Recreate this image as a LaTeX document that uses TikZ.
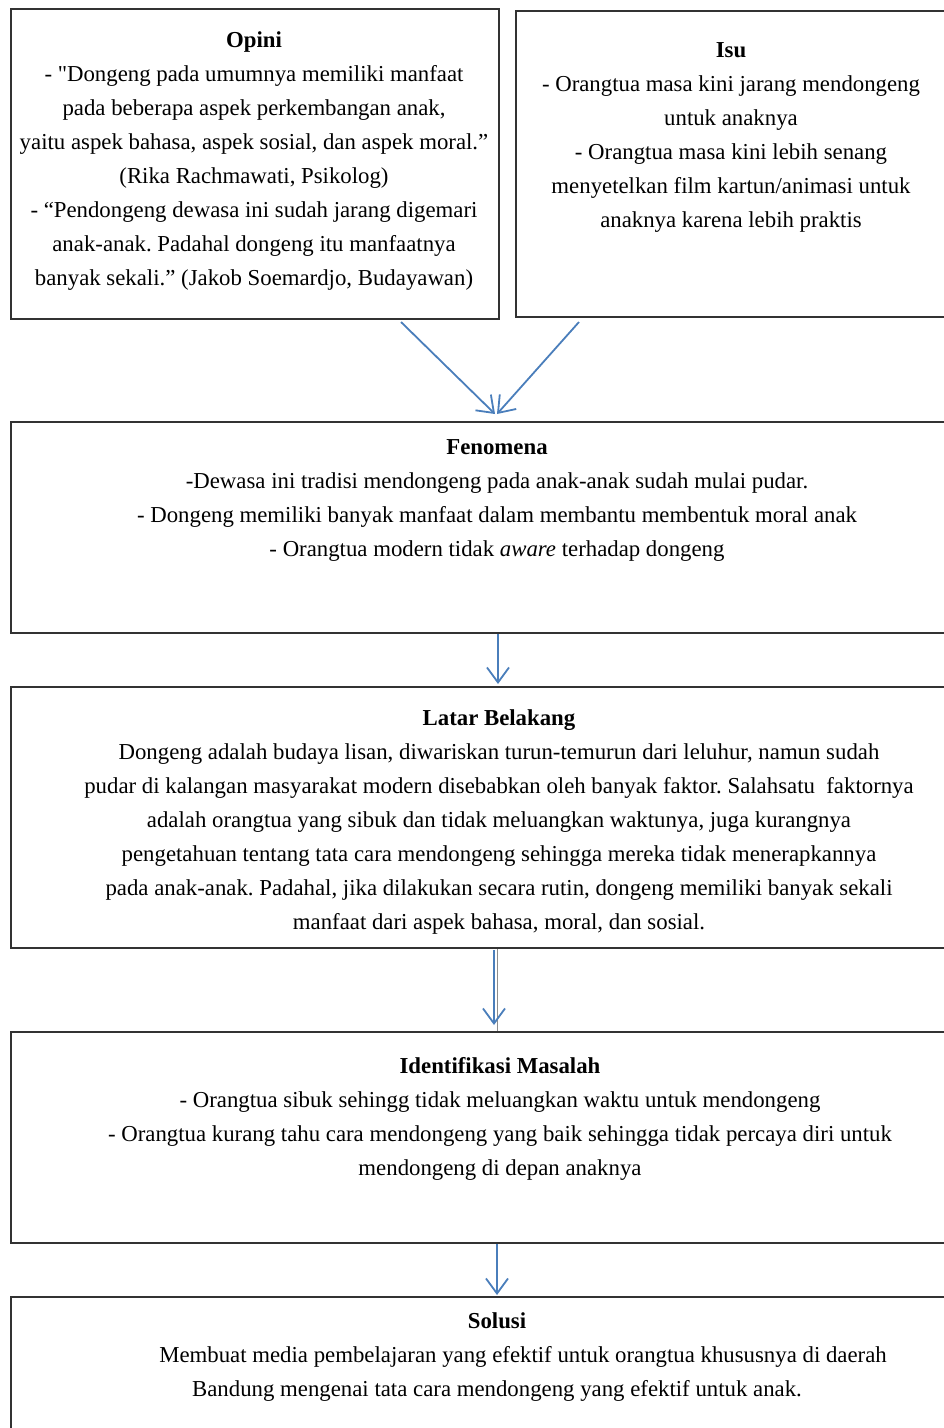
\documentclass[tikz,border=0pt]{standalone}
\usepackage{fontspec}
\setmainfont{Liberation Serif}
\newfontfamily\plainfont{Liberation Serif}
\usetikzlibrary{arrows.meta}
\definecolor{arrowblue}{RGB}{74,126,187}
\definecolor{boxline}{RGB}{50,50,50}
\frenchspacing
\begin{document}
\begin{tikzpicture}[x=1pt,y=-1pt,
  box/.style={draw=boxline, line width=2pt, rectangle, inner sep=0pt, anchor=north west},
  body/.style={align=center, inner sep=0pt, anchor=north, font=\fontsize{22.8}{34}\selectfont},
  conn/.style={draw=arrowblue, line width=1.8pt, -{Straight Barb[length=15pt,width=22pt,line width=1.8pt]}},
  thin/.style={draw=black!45, line width=0.6pt}]
\useasboundingbox (0,0) rectangle (944,1428);
\begin{scope}
\clip (0,0) rectangle (944,1428);
\node[box, minimum width=488pt, minimum height=310pt] (opini) at (10,8) {};
\node[box, minimum width=445pt, minimum height=306pt] (isu) at (515,10) {};
\node[box, minimum width=945pt, minimum height=211pt] (fenomena) at (10,421) {};
\node[box, minimum width=945pt, minimum height=261pt] (latar) at (10,686) {};
\node[box, minimum width=945pt, minimum height=211pt] (ident) at (10,1031) {};
\node[box, minimum width=945pt, minimum height=160pt] (solusi) at (10,1296) {};
\end{scope}

\node[body] (topini) at (254,31) {\textbf{Opini}\\
- {\plainfont"}Dongeng pada umumnya memiliki manfaat\\
pada beberapa aspek perkembangan anak,\\
yaitu aspek bahasa, aspek sosial, dan aspek moral.”\\
(Rika Rachmawati, Psikolog)\\
- “Pendongeng dewasa ini sudah jarang digemari\\
anak-anak. Padahal dongeng itu manfaatnya\\
banyak sekali.” (Jakob Soemardjo, Budayawan)};

\node[body] (tisu) at (731,42) {\textbf{Isu}\\
- Orangtua masa kini jarang mendongeng\\
untuk anaknya\\
- Orangtua masa kini lebih senang\\
menyetelkan film kartun/animasi untuk\\
anaknya karena lebih praktis};

\node[body] (tfenomena) at (497,439) {\textbf{Fenomena}\\
-Dewasa ini tradisi mendongeng pada anak-anak sudah mulai pudar.\\
- Dongeng memiliki banyak manfaat dalam membantu membentuk moral anak\\
- Orangtua modern tidak \emph{aware} terhadap dongeng};

\node[body] (tlatar) at (499,709) {\textbf{Latar Belakang}\\
Dongeng adalah budaya lisan, diwariskan turun-temurun dari leluhur, namun sudah\\
pudar di kalangan masyarakat modern disebabkan oleh banyak faktor. Salahsatu\ \ faktornya\\
adalah orangtua yang sibuk dan tidak meluangkan waktunya, juga kurangnya\\
pengetahuan tentang tata cara mendongeng sehingga mereka tidak menerapkannya\\
pada anak-anak. Padahal, jika dilakukan secara rutin, dongeng memiliki banyak sekali\\
manfaat dari aspek bahasa, moral, dan sosial.};

\node[body] (tident) at (500,1057) {\textbf{Identifikasi Masalah}\\
- Orangtua sibuk sehingg tidak meluangkan waktu untuk mendongeng\\
- Orangtua kurang tahu cara mendongeng yang baik sehingga tidak percaya diri untuk\\
mendongeng di depan anaknya};

\node[body] (tsolusi) at (497,1312) {\textbf{Solusi}\\
\hspace*{52pt}Membuat media pembelajaran yang efektif untuk orangtua khususnya di daerah\\
Bandung mengenai tata cara mendongeng yang efektif untuk anak.};

\draw[conn] ([xshift=146pt,yshift=-2pt]opini.south) -- ([xshift=11.5pt,yshift=7pt]fenomena.north);
\draw[conn] ([xshift=-159.5pt,yshift=-4pt]isu.south) -- ([xshift=13.5pt,yshift=7pt]fenomena.north);
\draw[conn] ([xshift=14.5pt]fenomena.south) -- ([xshift=14.5pt,yshift=2pt]latar.north);
\draw[thin] ([xshift=13.5pt]latar.south) -- ([xshift=13.5pt]ident.north);
\draw[conn] ([xshift=10.5pt,yshift=-1pt]latar.south) -- ([xshift=10.5pt,yshift=6pt]ident.north);
\draw[conn] ([xshift=13.5pt]ident.south) -- ([xshift=13.5pt,yshift=1pt]solusi.north);
\end{tikzpicture}
\end{document}
